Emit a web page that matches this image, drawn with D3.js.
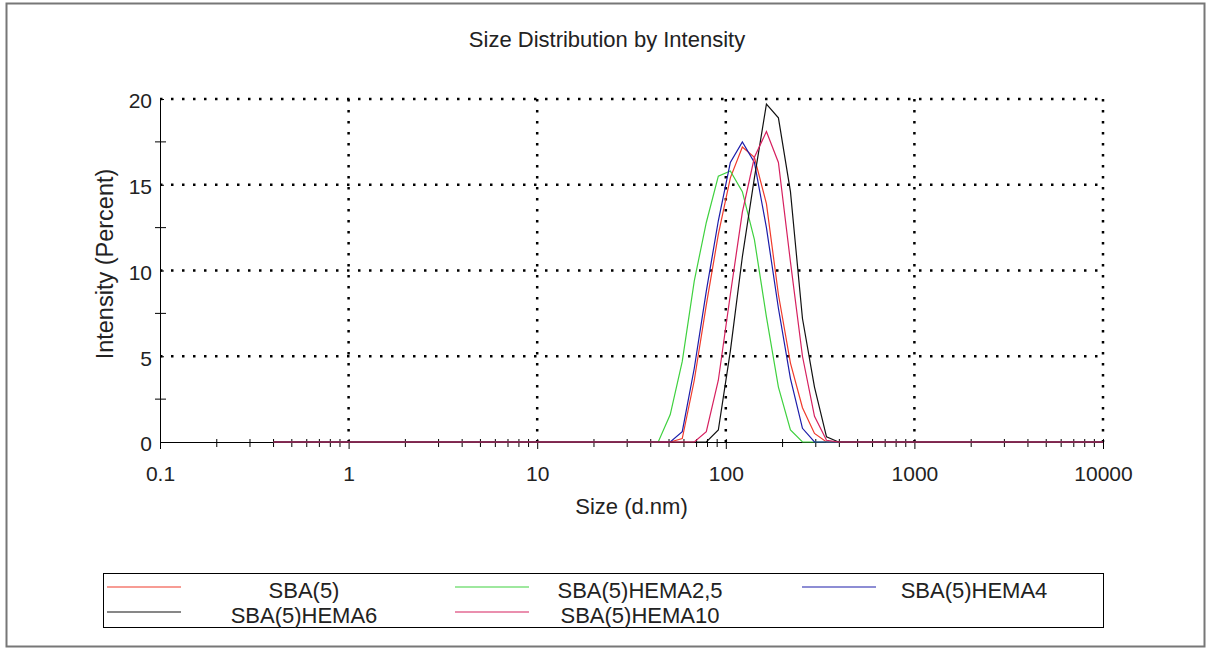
<!DOCTYPE html>
<html>
<head>
<meta charset="utf-8">
<script src="https://cdn.jsdelivr.net/npm/d3@7"></script>
<style>
  body { margin: 0; background: #fff; }
  svg { display: block; font-family: "Liberation Sans", Arial, sans-serif; }
</style>
</head>
<body>
<div class="chart"></div>
<script>
// Size distribution data (Malvern size bins, d.nm) and intensity (%) per sample
var sizes = [0.4, 43.82, 50.75, 58.77, 68.06, 78.82, 91.28, 105.7, 122.4, 141.8, 164.2, 190.1, 220.2, 255.0, 295.3, 342.0, 396.1, 10000];

var sba5      = [0, 0, 0,   0.2, 3.6, 8.0,  12.1, 15.4, 17.2, 16.6, 13.9, 8.6,  4.6,  2.0, 0.5, 0,   0, 0];
var hema25    = [0, 0, 1.6, 4.7, 9.4, 12.8, 15.5, 15.8, 14.6, 11.8, 7.3,  3.2,  0.7,  0,   0,   0,   0, 0];
var hema4     = [0, 0, 0,   0.6, 4.3, 8.8,  12.9, 16.3, 17.5, 16.3, 12.5, 7.8,  3.7,  0.8, 0,   0,   0, 0];
var hema6     = [0, 0, 0,   0,   0,   0,    0.7,  5.3,  10.8, 15.4, 19.7, 18.9, 14.6, 7.2, 3.2, 0.3, 0, 0];
var hema10    = [0, 0, 0,   0,   0,   0.6,  3.6,  8.6,  13.4, 16.6, 18.1, 16.3, 10.5, 5.0, 1.5, 0.1, 0, 0];

var seriesNames  = ["SBA(5)", "SBA(5)HEMA2,5", "SBA(5)HEMA4", "SBA(5)HEMA6", "SBA(5)HEMA10"];
var seriesColors = ["#f03a2a", "#3fd13f", "#1c1caa", "#111111", "#d6205f"];
var seriesValues = [sba5, hema25, hema4, hema6, hema10];

var xTicks = [0.1, 1, 10, 100, 1000, 10000];
var xTickLabels = ["0.1", "1", "10", "100", "1000", "10000"];
var yTicks = [0, 5, 10, 15, 20];
var yMinorTicks = [2.5, 7.5, 12.5, 17.5];

var W = 1208, H = 650;
var plot = {left: 160, right: 1103, top: 99, bottom: 442};

var svg = d3.select(".chart")
  .append("svg")
    .attr("width", W)
    .attr("height", H);

// outer frame
svg.append("rect")
  .attr("x", 6.5).attr("y", 3.5)
  .attr("width", 1198).attr("height", 643)
  .attr("fill", "none")
  .attr("stroke", "#777")
  .attr("stroke-width", 2);

var x = d3.scaleLog()
  .domain([0.1, 10000])
  .range([plot.left, plot.right]);

var y = d3.scaleLinear()
  .domain([0, 20])
  .range([plot.bottom, plot.top]);

// minor x ticks: 2..9 in each decade
var xMinor = [];
xTicks.slice(0, -1).forEach(function(d) {
  for (var k = 2; k <= 9; k++) xMinor.push(d * k);
});

// dotted grid
svg.append("g")
  .selectAll("line")
  .data(yTicks.slice(1))
  .enter().append("line")
    .attr("x1", plot.left)
    .attr("x2", plot.right)
    .attr("y1", function(d) { return y(d); })
    .attr("y2", function(d) { return y(d); })
    .attr("stroke", "#000")
    .attr("stroke-width", 2.5)
    .attr("stroke-dasharray", "2.5,8.5");

svg.append("g")
  .selectAll("line")
  .data(xTicks.slice(1))
  .enter().append("line")
    .attr("x1", function(d) { return x(d); })
    .attr("x2", function(d) { return x(d); })
    .attr("y1", plot.top)
    .attr("y2", plot.bottom)
    .attr("stroke", "#000")
    .attr("stroke-width", 2.5)
    .attr("stroke-dasharray", "2.5,8.5");

// X axis
var xAxis = svg.append("g")
  .attr("transform", "translate(0," + plot.bottom + ")")
  .call(d3.axisBottom(x)
    .tickValues(xTicks)
    .tickFormat(function(d, i) { return xTickLabels[i]; })
    .tickSize(7)
    .tickPadding(17));
xAxis.select(".domain").attr("stroke", "#000").attr("d", "M" + plot.left + ",0.5H" + plot.right);
xAxis.selectAll(".tick line").attr("y1", -3).attr("stroke", "#000");
xAxis.selectAll(".tick text")
  .attr("fill", "#222")
  .style("font-size", "21px")
  .attr("dy", "0.71em");

xAxis.selectAll(".minor")
  .data(xMinor)
  .enter().append("line")
    .attr("class", "minor")
    .attr("x1", function(d) { return x(d); })
    .attr("x2", function(d) { return x(d); })
    .attr("y1", -3)
    .attr("y2", 5)
    .attr("stroke", "#000");

// Y axis
var yAxis = svg.append("g")
  .attr("transform", "translate(" + plot.left + ",0)")
  .call(d3.axisLeft(y)
    .tickValues(yTicks)
    .tickSize(4)
    .tickPadding(4));
yAxis.select(".domain").attr("stroke", "#000").attr("d", "M0.5," + plot.top + "V" + plot.bottom);
yAxis.selectAll(".tick line").attr("x2", 4).attr("stroke", "#000");
yAxis.selectAll(".tick text")
  .attr("fill", "#222")
  .attr("dy", "0.42em")
  .style("font-size", "21px");

yAxis.selectAll(".minor")
  .data(yMinorTicks)
  .enter().append("line")
    .attr("class", "minor")
    .attr("x1", -5)
    .attr("x2", 6)
    .attr("y1", function(d) { return y(d); })
    .attr("y2", function(d) { return y(d); })
    .attr("stroke", "#000");

// series lines
var line = d3.line()
  .x(function(d, i) { return x(sizes[i]); })
  .y(function(d) { return y(d); });

svg.append("g")
  .selectAll("path")
  .data(seriesValues)
  .enter().append("path")
    .attr("d", line)
    .attr("fill", "none")
    .attr("stroke", function(d, i) { return seriesColors[i]; })
    .attr("stroke-width", 1.2);

// title
svg.append("text")
  .attr("x", 607)
  .attr("y", 47)
  .attr("text-anchor", "middle")
  .attr("fill", "#222")
  .style("font-size", "22px")
  .text("Size Distribution by Intensity");

// axis titles
svg.append("text")
  .attr("x", (plot.left + plot.right) / 2)
  .attr("y", 514)
  .attr("text-anchor", "middle")
  .attr("fill", "#222")
  .style("font-size", "22px")
  .text("Size (d.nm)");

svg.append("text")
  .attr("transform", "translate(113,264) rotate(-90)")
  .attr("text-anchor", "middle")
  .attr("fill", "#222")
  .style("font-size", "23.5px")
  .text("Intensity (Percent)");

// legend
svg.append("rect")
  .attr("x", 103.5).attr("y", 573.5)
  .attr("width", 1000).attr("height", 54)
  .attr("fill", "none")
  .attr("stroke", "#000");

var legendLineX = [107, 455, 802];
var legendTextX = [304, 640, 974];
var legendRowY = [587, 612];

var legend = svg.append("g")
  .selectAll("g")
  .data(seriesNames)
  .enter().append("g")
    .attr("transform", function(d, i) {
      return "translate(0," + legendRowY[Math.floor(i / 3)] + ")";
    });

legend.append("line")
  .attr("x1", function(d, i) { return legendLineX[i % 3]; })
  .attr("x2", function(d, i) { return legendLineX[i % 3] + 74; })
  .attr("stroke", function(d, i) { return seriesColors[i]; })
  .attr("stroke-width", 1.2);

legend.append("text")
  .attr("x", function(d, i) { return legendTextX[i % 3]; })
  .attr("y", 11)
  .attr("text-anchor", "middle")
  .attr("fill", "#222")
  .style("font-size", "22px")
  .text(function(d) { return d; });
</script>
</body>
</html>
